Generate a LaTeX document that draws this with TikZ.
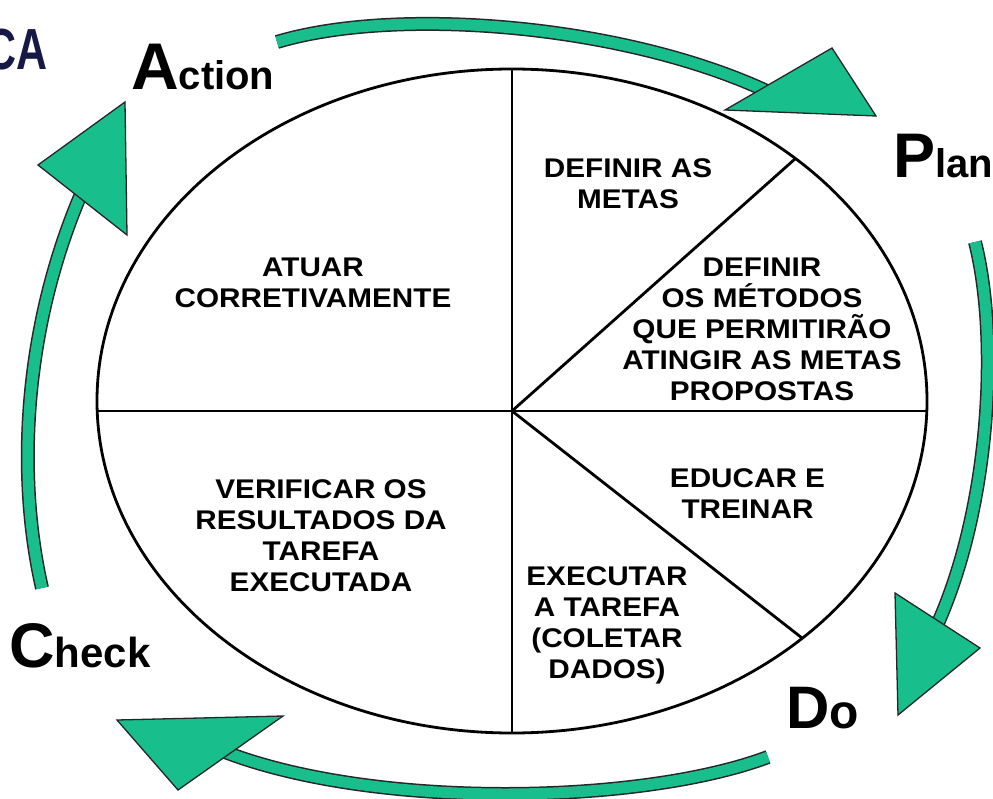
\documentclass[tikz,border=0pt]{standalone}
\usepackage{fontspec}
\setmainfont{Liberation Sans}
\newfontfamily\boxfont[FakeStretch=1.1]{Liberation Sans}
\definecolor{pdgreen}{RGB}{24,191,141}
\definecolor{pdnavy}{RGB}{22,24,70}
\tikzset{
  band/.style={line width=14pt, draw=black!85},
  bandfill/.style={line width=11pt, draw=pdgreen},
  head/.style={fill=pdgreen, draw=black!85, line width=1.3pt, line join=miter},
  divline/.style={line width=2.8pt, draw=black},
  boxtext/.style={inner sep=0pt, align=center, font=\boxfont\bfseries\fontsize{27}{31}\selectfont},
  titletext/.style={inner sep=0pt, anchor=base west, font=\bfseries}
}
\begin{document}
\begin{tikzpicture}[x=1pt,y=-1pt]
\useasboundingbox (0,0) rectangle (993,799);
\fill[white] (0,0) rectangle (993,799);

% main ellipse and divisions
\coordinate (c) at (512,411);
\coordinate (top) at (512,69);
\coordinate (bot) at (512,733);
\coordinate (lft) at (97.2,411);
\coordinate (rgt) at (926.8,411);
\coordinate (ur) at (795.5,158.5);
\coordinate (lr) at (802,638);
\draw[divline] (512,401) ellipse [x radius=415pt, y radius=332pt];
\draw[divline] (top) -- (bot);
\draw[divline] (lft) -- (rgt);
\draw[divline] (c) -- (ur);
\draw[divline] (c) -- (lr);

% texts inside
\node[boxtext] (atuar) at (313,282.5) {ATUAR\\CORRETIVAMENTE};
\node[boxtext] (metas) at (628,184) {DEFINIR AS\\METAS};
\node[boxtext] (metodos) at (762,329.5) {DEFINIR\\OS MÉTODOS\\QUE PERMITIRÃO\\ATINGIR AS METAS\\PROPOSTAS};
\node[boxtext] (verificar) at (321,536) {VERIFICAR OS\\RESULTADOS DA\\TAREFA\\EXECUTADA};
\node[boxtext] (educar) at (747.5,493.5) {EDUCAR E\\TREINAR};
\node[boxtext] (executar) at (607,625) {EXECUTAR\\A TAREFA\\(COLETAR\\DADOS)};

% arrows
\coordinate (t1) at (277,42);  \coordinate (e1) at (785,100);
\coordinate (t2) at (975,242); \coordinate (e2) at (930,640);
\coordinate (t3) at (768,757); \coordinate (e3) at (220,750);
\coordinate (t4) at (42,588);  \coordinate (e4) at (85,185);

\draw[band] (t1) .. controls (400,5) and (640,25) .. (e1);
\draw[bandfill] (t1) .. controls (400,5) and (640,25) .. (e1);
\draw[band] (t2) .. controls (1000,340) and (990,520) .. (e2);
\draw[bandfill] (t2) .. controls (1000,340) and (990,520) .. (e2);
\draw[band] (t3) .. controls (640,805) and (370,810) .. (e3);
\draw[bandfill] (t3) .. controls (640,805) and (370,810) .. (e3);
\draw[band] (t4) .. controls (15,470) and (25,320) .. (e4);
\draw[bandfill] (t4) .. controls (15,470) and (25,320) .. (e4);

\draw[head] (832,48) -- (876,116) -- (725,110) -- cycle;
\draw[head] (895,593) -- (980,648) -- (898,715) -- cycle;
\draw[head] (117,720) -- (283,716) -- (178,790) -- cycle;
\draw[head] (125,102) -- (38,165) -- (127,235) -- cycle;

% titles
\node[titletext] (action) at (131,90) {{\fontsize{66}{66}\selectfont A}{\fontsize{40}{40}\selectfont ction}};
\node[titletext] (plan) at (893,178) {{\fontsize{63}{63}\selectfont P}{\fontsize{40}{40}\selectfont lan}};
\node[titletext] (check) at (9,667) {{\fontsize{63}{63}\selectfont C}{\fontsize{42}{42}\selectfont heck}};
\node[titletext] (do) at (786,728) {{\fontsize{60}{60}\selectfont D}{\fontsize{48}{48}\selectfont o}};
\node[inner sep=0pt, anchor=base east, xscale=0.74, text=pdnavy, font=\bfseries\fontsize{58}{58}\selectfont] (pdca) at (48,70) {CA};
\end{tikzpicture}
\end{document}
